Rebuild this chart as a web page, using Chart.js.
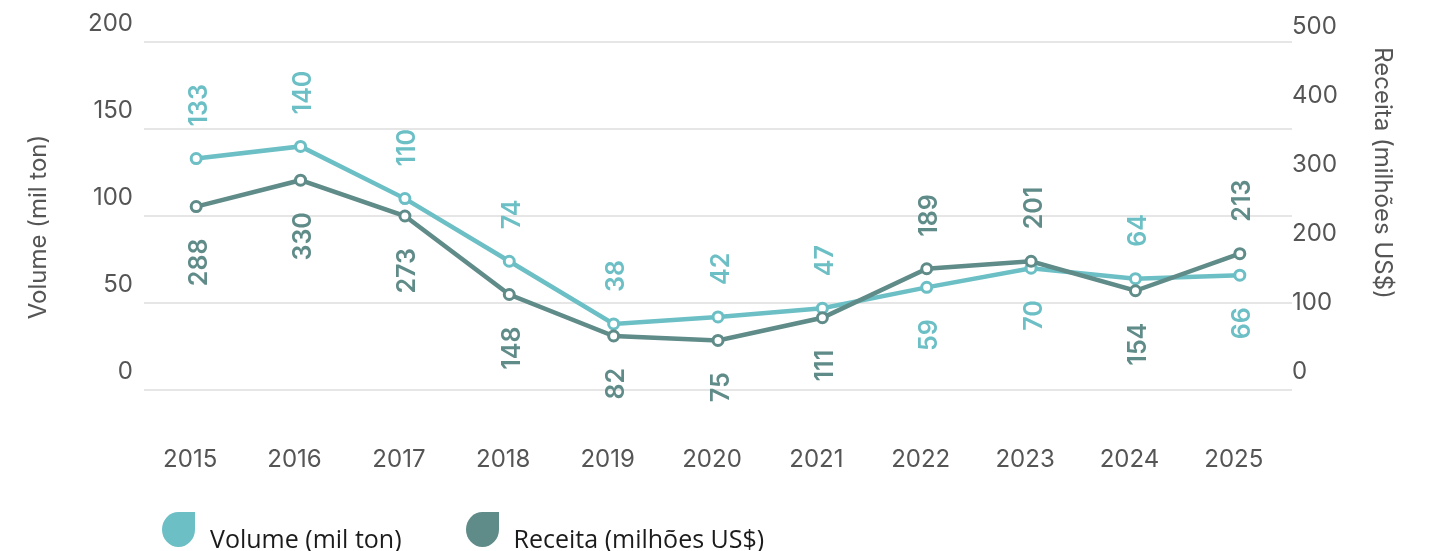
<!DOCTYPE html>
<html lang="pt-BR">
<head>
<meta charset="utf-8">
<title>Volume e receita 2015–2025</title>
<script src="https://cdn.jsdelivr.net/npm/chart.js@4.4.1/dist/chart.umd.min.js"></script>
<style>
  html, body { margin: 0; padding: 0; background: #fff; }
  #wrap { position: relative; width: 1431px; height: 551px; overflow: hidden; }
  #chart { display: block; }
  .legend { position: absolute; left: 162px; top: 512px; display: flex; font-family: "Open Sans", sans-serif; font-size: 25px; color: #1b1b1b; }
  .legend-item { display: flex; align-items: flex-end; margin-right: 64px; }
  .swatch { width: 33px; height: 35px; border-radius: 50% 0 50% 50%; margin-right: 15px; }
  .legend-item span { line-height: 1; position: relative; top: 4px; }
</style>
</head>
<body>
<div id="wrap">
  <canvas id="chart" width="1431" height="551"></canvas>
  <div class="legend" id="legend"></div>
</div>
<script>
const years = ['2015', '2016', '2017', '2018', '2019', '2020', '2021', '2022', '2023', '2024', '2025'];
const volume = [133, 140, 110, 74, 38, 42, 47, 59, 70, 64, 66];
const receita = [288, 330, 273, 148, 82, 75, 111, 189, 201, 154, 213];
const volumeTicks = [0, 50, 100, 150, 200];
const receitaTicks = [0, 100, 200, 300, 400, 500];
const volumeName = 'Volume (mil ton)';
const receitaName = 'Receita (milhões US$)';

const volumeColor = '#6bbfc5';
const receitaColor = '#5f8b88';
const tickFont = { family: 'Inter', size: 24 };
const tickColor = '#555';

// rotated value labels: the upper point of each year gets its label above, the other below
const valueLabels = {
  id: 'valueLabels',
  afterDatasetsDraw(chart) {
    const ctx = chart.ctx;
    const vMeta = chart.getDatasetMeta(0);
    const rMeta = chart.getDatasetMeta(1);
    ctx.save();
    ctx.font = '600 25px Inter';
    ctx.textBaseline = 'middle';
    years.forEach((_, i) => {
      const pv = vMeta.data[i];
      const pr = rMeta.data[i];
      const volUp = pv.y <= pr.y;
      drawLabel(ctx, pv, String(volume[i]), volumeColor, volUp);
      drawLabel(ctx, pr, String(receita[i]), receitaColor, !volUp);
    });
    ctx.restore();
  }
};

function drawLabel(ctx, pt, text, color, up) {
  ctx.save();
  ctx.translate(pt.x, pt.y);
  ctx.rotate(-Math.PI / 2);
  ctx.fillStyle = color;
  ctx.textAlign = up ? 'left' : 'right';
  ctx.fillText(text, up ? 32 : -32, 3);
  ctx.restore();
}

// axis titles, drawn by hand so they sit where wanted
const axisTitles = {
  id: 'axisTitles',
  afterDraw(chart) {
    const ctx = chart.ctx;
    ctx.save();
    ctx.font = '24px Inter';
    ctx.fillStyle = tickColor;
    ctx.textAlign = 'center';
    ctx.textBaseline = 'middle';
    ctx.translate(39, 227);
    ctx.rotate(-Math.PI / 2);
    ctx.fillText(volumeName, 0, 0);
    ctx.restore();

    ctx.save();
    ctx.font = '24px Inter';
    ctx.fillStyle = tickColor;
    ctx.textAlign = 'center';
    ctx.textBaseline = 'middle';
    ctx.translate(1382, 173);
    ctx.rotate(Math.PI / 2);
    ctx.fillText(receitaName, 0, 0);
    ctx.restore();
  }
};

function buildChart() {
  const chart = new Chart(document.getElementById('chart'), {
    type: 'line',
    data: {
      labels: years,
      datasets: [
        {
          label: volumeName,
          data: volume,
          yAxisID: 'y',
          order: 1,
          borderColor: volumeColor,
          backgroundColor: volumeColor,
          borderWidth: 4.5,
          pointRadius: 5,
          pointBorderWidth: 3,
          pointBackgroundColor: '#fff',
          pointBorderColor: volumeColor,
          tension: 0
        },
        {
          label: receitaName,
          data: receita,
          yAxisID: 'yRec',
          order: 0,
          borderColor: receitaColor,
          backgroundColor: receitaColor,
          borderWidth: 4.5,
          pointRadius: 5,
          pointBorderWidth: 3,
          pointBackgroundColor: '#fff',
          pointBorderColor: receitaColor,
          tension: 0
        }
      ]
    },
    options: {
      responsive: false,
      animation: false,
      devicePixelRatio: 1,
      layout: { padding: { top: 42, left: 0, right: 0, bottom: 0 } },
      plugins: {
        legend: { display: false },
        tooltip: { enabled: false }
      },
      scales: {
        x: {
          type: 'category',
          offset: true,
          grid: { display: false, drawTicks: false },
          border: { display: false },
          ticks: { color: tickColor, font: tickFont, padding: 55, labelOffset: -6, maxRotation: 0 },
          afterFit: s => { s.height = 161; }
        },
        y: {
          position: 'left',
          min: 0,
          max: 200,
          afterBuildTicks: s => { s.ticks = volumeTicks.map(v => ({ value: v })); },
          grid: { color: '#e6e6e6', lineWidth: 2, drawTicks: false },
          border: { display: false },
          ticks: { color: tickColor, font: tickFont, padding: 11, labelOffset: -18 },
          afterFit: s => { s.width = 144; }
        },
        yR: {
          position: 'right',
          min: 0,
          max: 504,
          afterBuildTicks: s => { s.ticks = receitaTicks.map(v => ({ value: v })); },
          grid: { display: false, drawTicks: false },
          border: { display: false },
          ticks: { color: tickColor, font: tickFont, padding: 0, labelOffset: -18 },
          afterFit: s => { s.width = 139; }
        },
        yRec: {
          position: 'right',
          display: false,
          min: -4,
          max: 550
        }
      }
    },
    plugins: [valueLabels, axisTitles]
  });

  // legend under the plot
  const legend = document.getElementById('legend');
  chart.data.datasets.forEach(ds => {
    const item = document.createElement('div');
    item.className = 'legend-item';
    const sw = document.createElement('div');
    sw.className = 'swatch';
    sw.style.background = ds.borderColor;
    const txt = document.createElement('span');
    txt.textContent = ds.label;
    item.appendChild(sw);
    item.appendChild(txt);
    legend.appendChild(item);
  });
}

Promise.all([
  document.fonts.load('24px Inter'),
  document.fonts.load('600 25px Inter'),
  document.fonts.load('25px "Open Sans"')
]).catch(() => {}).then(buildChart);
</script>
</body>
</html>
